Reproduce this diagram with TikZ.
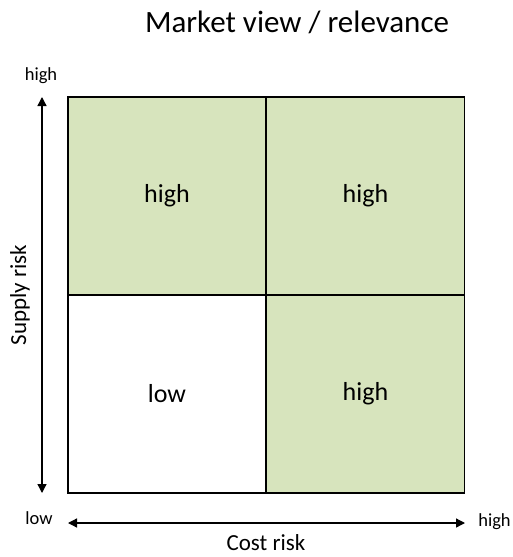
\documentclass[tikz,border=0pt]{standalone}
\usepackage{fontspec}
\setmainfont{Carlito}
\usetikzlibrary{arrows.meta}
\definecolor{cellgreen}{HTML}{D7E4BD}
\begin{document}
\begin{tikzpicture}[x=1pt,y=-1pt,
  cell/.style={draw=black,line width=1.4pt,minimum width=198pt,minimum height=198pt,inner sep=0pt,font=\fontsize{26}{30}\selectfont},
  axis/.style={line width=1.3pt,{Triangle[length=9pt,width=9pt]}-{Triangle[length=9pt,width=9pt]}},
  small/.style={font=\fontsize{18.5}{22}\selectfont,inner sep=0pt},
  axlab/.style={font=\fontsize{23}{27}\selectfont,inner sep=0pt}]
\useasboundingbox (0,0) rectangle (512,557);
\node[cell,fill=cellgreen] (tl) at (167,196) {high};
\node[cell,fill=cellgreen] (tr) at (365.5,196) {high};
\node[cell,fill=white] (bl) at (167,394) {low};
\node[cell,fill=cellgreen] (br) at (365.5,394) {high};
\node[font=\fontsize{31}{36}\selectfont,inner sep=0pt] (title) at (297,22) {Market view / relevance};
\coordinate (vt) at (42,97);
\coordinate (vb) at (42,493);
\coordinate (hl) at (68,523);
\coordinate (hr) at (465,523);
\draw[axis] (vb) -- (vt);
\draw[axis] (hl) -- (hr);
\node[small] (yhigh) at (41,76) {high};
\node[small] (ylow) at (39,518) {low};
\node[small] (xhigh) at (494.5,522) {high};
\node[axlab] (xlab) at (266,542.5) {Cost risk};
\node[axlab,rotate=90] (ylab) at (20,295) {Supply risk};
\end{tikzpicture}
\end{document}
